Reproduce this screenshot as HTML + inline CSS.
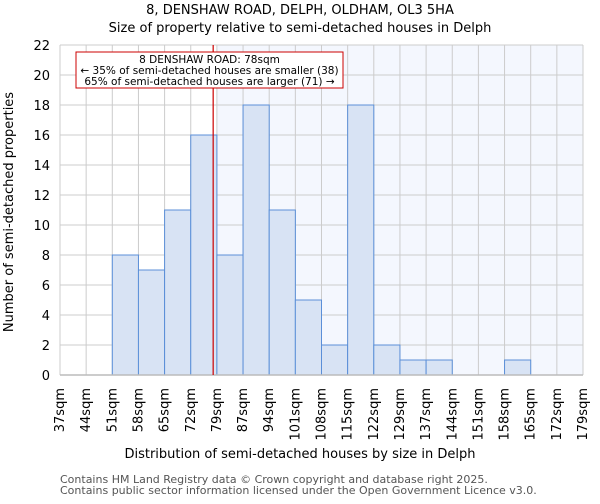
<!DOCTYPE html>
<html><head><meta charset="utf-8"><style>
body{margin:0;background:#fff;font-family:"DejaVu Sans","Liberation Sans",sans-serif}
svg text{font-family:"DejaVu Sans","Liberation Sans",sans-serif}
</style></head><body>
<svg id="c" width="600" height="500">
<text x="300" y="14" text-anchor="middle" font-size="13">8, DENSHAW ROAD, DELPH, OLDHAM, OL3 5HA</text>
<text x="300" y="32" text-anchor="middle" font-size="13">Size of property relative to semi-detached houses in Delph</text>
<g id="plot"></g>
<text x="300" y="458" text-anchor="middle" font-size="13">Distribution of semi-detached houses by size in Delph</text>
<text x="13" y="212" text-anchor="middle" font-size="13" transform="rotate(-90 13 212)">Number of semi-detached properties</text>
<text x="60" y="483" font-size="11" fill="#555">Contains HM Land Registry data © Crown copyright and database right 2025.</text>
<text x="60" y="494" font-size="11" fill="#555">Contains public sector information licensed under the Open Government Licence v3.0.</text>
</svg>
<script>
const edges=["37sqm","44sqm","51sqm","58sqm","65sqm","72sqm","79sqm","87sqm","94sqm","101sqm","108sqm","115sqm","122sqm","129sqm","137sqm","144sqm","151sqm","158sqm","165sqm","172sqm","179sqm"];
const counts=[0,0,8,7,11,16,8,18,11,5,2,18,2,1,1,0,0,1,0,0];
const yTicks=[0,2,4,6,8,10,12,14,16,18,20,22];
const propertyBin=5, propertyFrac=6/7;
const X0=60,X1=583,Y0=375,Y1=45,YMAX=22;
const bw=(X1-X0)/counts.length;
const xs=i=>X0+i*bw, ys=v=>Y0-(v/YMAX)*(Y0-Y1);
const g=document.getElementById('plot');const NS="http://www.w3.org/2000/svg";
function mk(t,a){const e=document.createElementNS(NS,t);for(const k in a)e.setAttribute(k,a[k]);g.appendChild(e);return e;}
const lx=xs(propertyBin+propertyFrac);
let e=mk('rect',{x:xs(propertyBin+1),y:Y1,width:X1-xs(propertyBin+1),height:Y0-Y1,fill:'#f4f7fe'});


yTicks.forEach(t=>{const l=mk('line',{x1:X0,x2:X1,y1:ys(t),y2:ys(t),stroke:'#ccc'});


const tx=mk('text',{x:X0-10,y:ys(t)+5,'text-anchor':'end','font-size':13});tx.textContent=t;

});
edges.forEach((s,i)=>{const l=mk('line',{x1:xs(i),x2:xs(i),y1:Y1,y2:Y0,stroke:'#ccc'});


const x=xs(i)+4,y=388;const tx=mk('text',{x:x,y:y,'text-anchor':'end','font-size':13,transform:`rotate(-90 ${x} ${y})`});tx.textContent=s;

});
counts.forEach((c,i)=>{if(!c)return;const r=mk('rect',{x:xs(i),y:ys(c),width:bw,height:Y0-ys(c),fill:'#d8e3f4',stroke:'#5b8fd8','stroke-width':1});

});
e=mk('line',{x1:X0,x2:X1,y1:Y0,y2:Y0,stroke:'#bbb','stroke-width':1.5});


e=mk('line',{x1:lx,x2:lx,y1:Y1,y2:Y0,stroke:'#c00','stroke-width':1.2});


e=mk('rect',{x:76,y:52,width:267,height:36,fill:'#fff',stroke:'#c00'});


["8 DENSHAW ROAD: 78sqm","← 35% of semi-detached houses are smaller (38)","65% of semi-detached houses are larger (71) →"].forEach((s,i)=>{const t=mk('text',{x:209.5,y:63+i*11,'text-anchor':'middle','font-size':10.5});t.textContent=s;

});
</script>
</body></html>
